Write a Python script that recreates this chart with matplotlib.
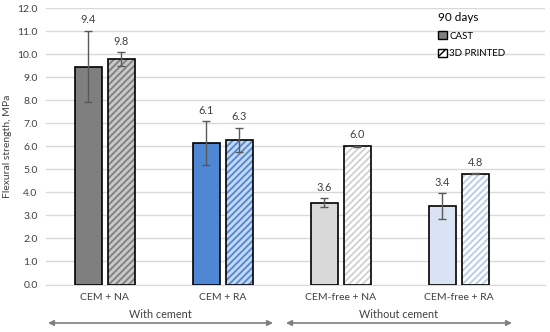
import matplotlib
matplotlib.use("Agg")
import matplotlib.pyplot as plt
from matplotlib.patches import Patch, FancyArrowPatch
from matplotlib.lines import Line2D
from matplotlib.legend_handler import HandlerTuple
import numpy as np

categories = ["CEM + NA", "CEM + RA", "CEM-free + NA", "CEM-free + RA"]
cast_vals = [9.45, 6.13, 3.55, 3.40]
cast_err = [1.55, 0.95, 0.20, 0.55]
printed_vals = [9.78, 6.27, 6.00, 4.80]
printed_err = [0.30, 0.52, 0.02, 0.02]
cast_labels = ["9.4", "6.1", "3.6", "3.4"]
printed_labels = ["9.8", "6.3", "6.0", "4.8"]
groups = ["With cement", "Without cement"]
yticks = np.arange(0, 12.01, 1.0)

cast_colors = ["#7f7f7f", "#4f87d5", "#d9d9d9", "#dae3f3"]
printed_face = ["#c8c8c8", "#c5d8f0", "#ffffff", "#ffffff"]
printed_hatch = ["#7f7f7f", "#4f87d5", "#d0d0d0", "#b4cbea"]

plt.rcParams['font.family'] = ['Lato', 'DejaVu Sans']
plt.rcParams['hatch.linewidth'] = 1.3

fig = plt.figure(figsize=(5.5, 3.32), dpi=100)
ax = fig.add_axes([46/550, 47.5/332, 499/550, 276.5/332])

x = np.arange(len(categories))
w = 0.228
off = 0.14
for i in range(len(categories)):
    ax.bar(x[i] - off, cast_vals[i], w, color=cast_colors[i], edgecolor='black', linewidth=1.2, zorder=3)
    ax.bar(x[i] + off, printed_vals[i], w, color=printed_face[i], edgecolor=printed_hatch[i],
           hatch='/////', linewidth=0, zorder=3)
    ax.bar(x[i] + off, printed_vals[i], w, fill=False, edgecolor='black', linewidth=1.2, zorder=4)

ax.errorbar(x - off, cast_vals, yerr=cast_err, fmt='none', ecolor='#595959', elinewidth=1, capsize=3, zorder=5)
ax.errorbar(x + off, printed_vals, yerr=printed_err, fmt='none', ecolor='#595959', elinewidth=1, capsize=3, zorder=5)

for i in range(len(categories)):
    ax.annotate(cast_labels[i], (x[i] - off, cast_vals[i] + cast_err[i]), xytext=(0, 4),
                textcoords='offset points', ha='center', va='bottom', fontsize=7.8, color='#404040')
    ax.annotate(printed_labels[i], (x[i] + off, printed_vals[i] + printed_err[i]), xytext=(0, 4),
                textcoords='offset points', ha='center', va='bottom', fontsize=7.8, color='#404040')

ax.set_xlim(-0.497, 3.73)
ax.set_ylim(0, 12)
ax.set_yticks(yticks)
ax.set_yticklabels([f"{v:.1f}" for v in yticks], fontsize=7.5, color='#404040')
ax.set_xticks(x)
ax.set_xticklabels(categories, fontsize=7.5, color='#404040')
ax.tick_params(length=0, pad=6)
ax.grid(axis='y', color='#d9d9d9', linewidth=1, zorder=0)
ax.set_axisbelow(True)
for s in ['top', 'right', 'left']:
    ax.spines[s].set_visible(False)
ax.spines['bottom'].set_color('#d9d9d9')
ax.set_ylabel("Flexural strength, MPa", fontsize=7.5, color='#404040', labelpad=4)

h_cast = Patch(facecolor='#7f7f7f', edgecolor='black', linewidth=1)
h_pr_box = Patch(facecolor='white', edgecolor='black', linewidth=1)
h_pr_diag = Line2D([], [], marker=[(-1, -1), (1, 1)], markersize=5, color='black',
                   markeredgewidth=1, linestyle='none')
leg = fig.legend([h_cast, (h_pr_box, h_pr_diag)], ["CAST", "3D PRINTED"], title="90 days",
                 loc='upper left', bbox_to_anchor=(0.78, 0.99), frameon=False, fontsize=7,
                 handlelength=0.9, handleheight=0.9, handletextpad=0.3, labelspacing=0.8,
                 title_fontsize=8.5, handler_map={tuple: HandlerTuple(ndivide=1, pad=0)})
leg._legend_box.align = 'left'
leg._legend_box.sep = 6

fig.text(160/550, 1 - 315/332, groups[0], ha='center', va='center', fontsize=7.8, color='#404040')
fig.text(399/550, 1 - 315/332, groups[1], ha='center', va='center', fontsize=7.8, color='#404040')
ay = 1 - 323/332
ap = dict(arrowstyle='<|-|>', color='#808080', lw=1.2, mutation_scale=8, shrinkA=0, shrinkB=0)
fig.add_artist(FancyArrowPatch((48/550, ay), (273/550, ay), transform=fig.transFigure, **ap))
fig.add_artist(FancyArrowPatch((286/550, ay), (512/550, ay), transform=fig.transFigure, **ap))

fig.savefig("out.png", dpi=100)
